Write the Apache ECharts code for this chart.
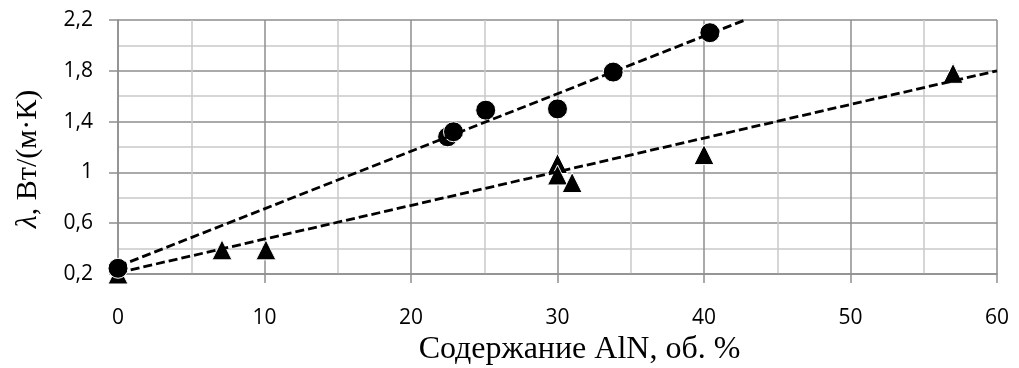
<!DOCTYPE html>
<html>
<head>
<meta charset="utf-8">
<script src="https://cdn.jsdelivr.net/npm/echarts@6/dist/echarts.min.js"></script>
<style>
html,body{margin:0;padding:0;background:#fff;}
#chart{width:1019px;height:368px;}
</style>
</head>
<body>
<div id="chart"></div>
<script>
// Data
const circlesX = [0, 22.5, 22.9, 25.1, 30.0, 33.8, 40.4];
const circlesY = [0.245, 1.28, 1.32, 1.49, 1.50, 1.79, 2.10];
const trianglesX = [0, 7.1, 10.1, 30.0, 30.0, 31.0, 40.0, 57.0];
const trianglesY = [0.20, 0.39, 0.39, 1.07, 0.98, 0.92, 1.14, 1.78];
// Trend line end points
const circleTrendX = [0, 42.8];
const circleTrendY = [0.26, 2.2];
const triangleTrendX = [0, 60];
const triangleTrendY = [0.21, 1.80];
// Axis titles
const xTitle = 'Содержание AlN, об. %';
const yTitleLambda = 'λ';
const yTitleRest = ', Вт/(м·К)';

function zip(xs, ys){ return xs.map((x,i)=>[x, ys[i]]); }

const chart = echarts.init(document.getElementById('chart'), null, {renderer:'canvas'});
const majorColor = '#8e8e8e';
const minorColor = '#c9c9c9';
const labelFont = '"Open Sans", "Liberation Sans", sans-serif';
const titleFont = '"Liberation Serif", "Times New Roman", serif';

chart.setOption({
  animation:false,
  backgroundColor:'#fff',
  grid:{left:118, right:22, top:20, bottom:94, show:false, containLabel:false, outerBoundsMode:'none'},
  xAxis:{
    type:'value', min:0, max:60, interval:10,
    name:xTitle, nameLocation:'middle', nameGap:60,
    nameTextStyle:{fontFamily:titleFont, fontSize:32, color:'#000', padding:[0,0,0,44]},
    axisLine:{show:true, onZero:false, lineStyle:{color:majorColor, width:1.5}},
    axisTick:{show:true, length:9, lineStyle:{color:majorColor, width:1.5}},
    axisLabel:{margin:34, color:'#000', fontFamily:labelFont, fontSize:21},
    splitLine:{show:true, lineStyle:{color:majorColor, width:1.5}},
    minorTick:{show:false, splitNumber:2},
    minorSplitLine:{show:true, lineStyle:{color:minorColor, width:1.5}}
  },
  yAxis:{
    type:'value', min:0.2, max:2.2, interval:0.4,
    name:'{i|' + yTitleLambda + '}' + yTitleRest, nameLocation:'middle', nameGap:75,
    nameTextStyle:{fontFamily:titleFont, fontSize:30, color:'#000', padding:[0,24,0,0],
      rich:{i:{fontFamily:titleFont, fontSize:30, fontStyle:'italic', color:'#000'}}},
    axisLine:{show:true, lineStyle:{color:majorColor, width:1.5}},
    axisTick:{show:true, length:9, lineStyle:{color:majorColor, width:1.5}},
    axisLabel:{margin:25, color:'#000', fontFamily:labelFont, fontSize:21,
      formatter:function(v){ return (Math.round(v*10)/10).toString().replace('.', ','); }},
    splitLine:{show:true, lineStyle:{color:majorColor, width:1.5}},
    minorTick:{show:false, splitNumber:2},
    minorSplitLine:{show:true, lineStyle:{color:minorColor, width:1.5}}
  },
  series:[
    {type:'scatter', name:'triangles', data:zip(trianglesX, trianglesY), symbol:'triangle', symbolSize:20,
     itemStyle:{color:'#000', opacity:1, borderColor:'#fff', borderWidth:1}, z:2},
    {type:'scatter', name:'circles', data:zip(circlesX, circlesY), symbol:'circle', symbolSize:20,
     itemStyle:{color:'#000', opacity:1, borderColor:'#fff', borderWidth:1}, z:3},
    {type:'line', name:'circleTrend', data:zip(circleTrendX, circleTrendY), showSymbol:false, symbol:'none',
     lineStyle:{color:'#000', width:2.8, type:[9,4]}, z:4},
    {type:'line', name:'triangleTrend', data:zip(triangleTrendX, triangleTrendY), showSymbol:false, symbol:'none',
     lineStyle:{color:'#000', width:2.8, type:[9,4]}, z:4}
  ]
});
</script>
</body>
</html>
